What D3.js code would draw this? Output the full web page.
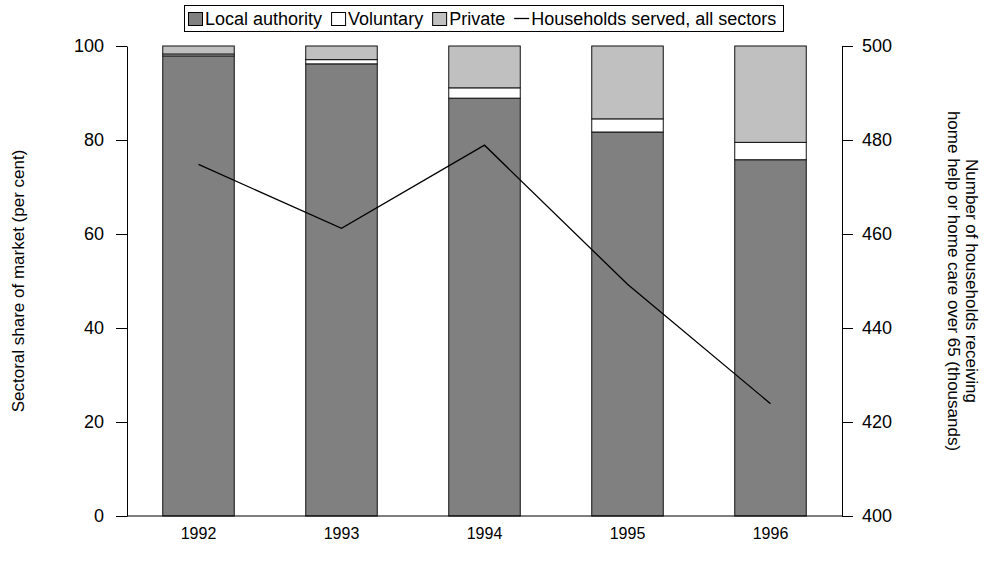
<!DOCTYPE html>
<html><head><meta charset="utf-8">
<script src="https://cdn.jsdelivr.net/npm/d3@7"></script>
<style>body{margin:0;background:#fff}svg{display:block;font-family:"Liberation Sans",Arial,sans-serif}</style>
</head><body><svg id="c" width="984" height="574"></svg>
<script>
const years = ["1992","1993","1994","1995","1996"];
const localAuthority = [97.9, 96.2, 88.9, 81.7, 75.8];
const voluntary = [0.4, 0.9, 2.2, 2.8, 3.7];
const privateSector = [1.7, 2.9, 8.9, 15.5, 20.5];
const households = [474.8, 461.2, 478.9, 449.3, 423.9];
const leftTicks = [0, 20, 40, 60, 80, 100];
const rightTicks = [400, 420, 440, 460, 480, 500];
const seriesNames = ["Local authority", "Voluntary", "Private"];
const seriesColors = ["#808080", "#ffffff", "#c0c0c0"];
const lineName = "Households served, all sectors";

const FONT = "Liberation Sans, Arial, sans-serif";
const svg = d3.select("#c");
const L = 127, R = 842, T = 46, B = 516;
const x = d3.scaleBand().domain(years).range([L, R]).paddingInner(0.5).paddingOuter(0.25);
const y = d3.scaleLinear().domain([0, 100]).range([B, T]);
const y2 = d3.scaleLinear().domain([400, 500]).range([B, T]);

const rows = years.map((yr, i) => ({year: yr, "Local authority": localAuthority[i], "Voluntary": voluntary[i], "Private": privateSector[i]}));
const stack = d3.stack().keys(seriesNames)(rows);

svg.append("g").selectAll("g").data(stack).join("g")
  .attr("fill", (d, i) => seriesColors[i])
  .selectAll("rect").data(d => d).join("rect")
  .attr("x", d => x(d.data.year))
  .attr("width", x.bandwidth())
  .attr("y", d => y(d[1]))
  .attr("height", d => y(d[0]) - y(d[1]))
  .attr("stroke", "#111").attr("stroke-width", 1);

// line
svg.append("path").datum(households)
  .attr("fill", "none").attr("stroke", "#000").attr("stroke-width", 1.3)
  .attr("d", d3.line().x((d, i) => x(years[i]) + x.bandwidth() / 2).y(d => y2(d)));

// axes
const ga = svg.append("g").attr("transform", `translate(${L},0)`)
  .call(d3.axisLeft(y).tickValues(leftTicks).tickSize(11).tickPadding(12).tickSizeOuter(0));
const gb = svg.append("g").attr("transform", `translate(${R},0)`)
  .call(d3.axisRight(y2).tickValues(rightTicks).tickSize(11).tickPadding(9).tickSizeOuter(0));
[ga, gb].forEach(g => {
  g.selectAll("text").attr("font-size", 18).attr("fill", "#000").attr("font-family", FONT);
  g.selectAll("line,path").attr("stroke", "#000");
});
const gx = svg.append("g").attr("transform", `translate(0,${B})`)
  .call(d3.axisBottom(x).tickSize(0).tickPadding(12).tickSizeOuter(0));
gx.select(".domain").attr("d", `M${L},0H${R}`).attr("stroke", "#000");
gx.selectAll("text").attr("font-size", 16).attr("fill", "#000").attr("font-family", FONT);

// axis titles
svg.append("text").attr("transform", `translate(24,${(T + B) / 2}) rotate(-90)`)
  .attr("text-anchor", "middle").attr("font-size", 17).attr("font-family", FONT)
  .text("Sectoral share of market (per cent)");
const rt = svg.append("text").attr("transform", `translate(963,${(T + B) / 2}) rotate(90)`)
  .attr("text-anchor", "middle").attr("font-size", 17).attr("font-family", FONT);
rt.append("tspan").attr("x", 0).attr("y", -2.5).text("Number of households receiving");
rt.append("tspan").attr("x", 0).attr("y", 15.5).text("home help or home care over 65 (thousands)");

// legend
const lg = svg.append("g");
lg.append("rect").attr("x", 184.5).attr("y", 5.5).attr("width", 599).attr("height", 26).attr("fill", "#fff").attr("stroke", "#000");
const items = seriesNames.map((n, i) => ({name: n, type: "box", color: seriesColors[i]}))
  .concat([{name: lineName, type: "line"}]);
let cx = 188;
items.forEach(it => {
  if (it.type === "box") {
    lg.append("rect").attr("x", cx + 0.5).attr("y", 12.5).attr("width", 14).attr("height", 13).attr("fill", it.color).attr("stroke", "#000");
  } else {
    lg.append("line").attr("x1", cx).attr("x2", cx + 15).attr("y1", 18.5).attr("y2", 18.5).attr("stroke", "#000").attr("stroke-width", 1.3);
  }
  cx += 17;
  const t = lg.append("text").attr("x", cx).attr("y", 25).attr("font-size", 18).attr("font-family", FONT).text(it.name);
  cx += t.node().getComputedTextLength() + 9;
});
</script></body></html>
